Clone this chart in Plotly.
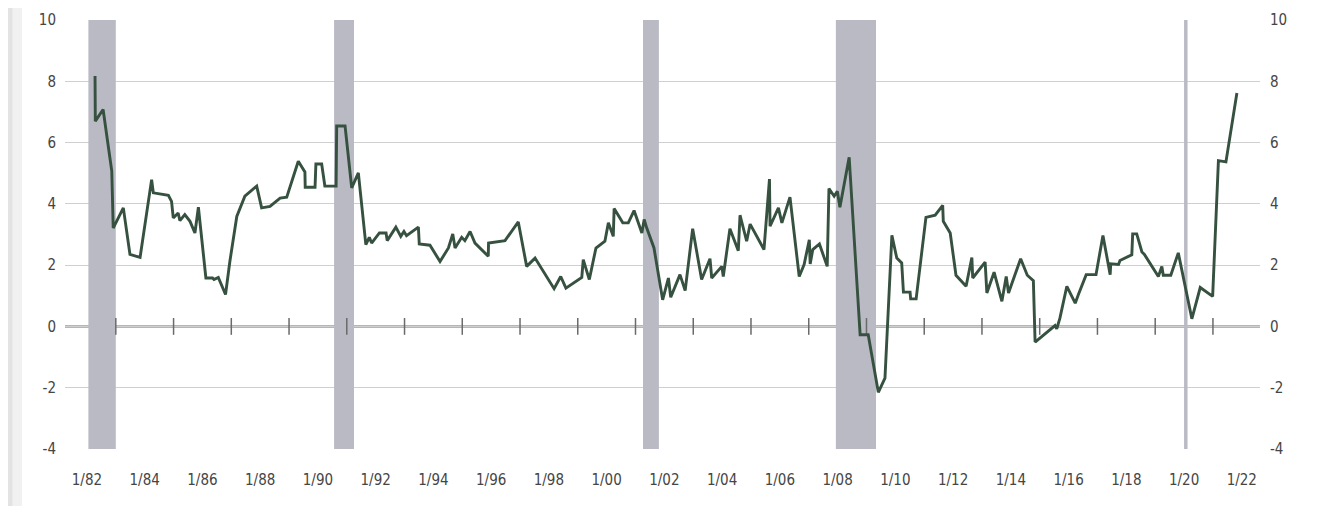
import plotly.graph_objects as go

# Decimal-year positions and percent change values
years = [
    1982.28, 1982.29, 1982.56, 1982.86, 1982.91, 1983.26, 1983.49, 1983.84, 1984.24, 1984.30,
    1984.82, 1984.93, 1984.99, 1985.16, 1985.22, 1985.39, 1985.57, 1985.74, 1985.86, 1986.12,
    1986.35, 1986.40, 1986.55, 1986.80, 1986.95, 1987.19, 1987.47, 1987.88, 1988.05, 1988.34,
    1988.69, 1988.92, 1989.32, 1989.55, 1989.56, 1989.90, 1989.93, 1990.13, 1990.24, 1990.63,
    1990.65, 1990.94, 1991.17, 1991.40, 1991.66, 1991.78, 1991.86, 1992.13, 1992.36, 1992.40,
    1992.70, 1992.87, 1992.98, 1993.07, 1993.48, 1993.51, 1993.88, 1994.23, 1994.52, 1994.67,
    1994.75, 1994.98, 1995.09, 1995.27, 1995.44, 1995.61, 1995.90, 1995.91, 1996.48, 1996.94,
    1997.23, 1997.52, 1998.18, 1998.41, 1998.59, 1999.14, 1999.19, 1999.40, 1999.63, 1999.94,
    2000.06, 2000.23, 2000.26, 2000.56, 2000.75, 2000.95, 2001.22, 2001.30, 2001.39, 2001.64,
    2001.94, 2002.14, 2002.22, 2002.54, 2002.72, 2002.98, 2003.29, 2003.58, 2003.64, 2003.99,
    2004.04, 2004.27, 2004.56, 2004.62, 2004.85, 2004.97, 2005.45, 2005.64, 2005.66, 2005.95,
    2006.07, 2006.35, 2006.67, 2006.84, 2007.02, 2007.05, 2007.14, 2007.37, 2007.64, 2007.70,
    2007.88, 2007.99, 2008.08, 2008.40, 2008.78, 2009.06, 2009.41, 2009.64, 2009.88, 2010.05,
    2010.22, 2010.28, 2010.51, 2010.53, 2010.72, 2011.06, 2011.38, 2011.64, 2011.66, 2011.90,
    2012.10, 2012.45, 2012.65, 2012.68, 2013.11, 2013.17, 2013.42, 2013.69, 2013.84, 2013.92,
    2014.34, 2014.57, 2014.78, 2014.84, 2015.53, 2015.59, 2015.70, 2015.94, 2016.23, 2016.34,
    2016.61, 2016.95, 2017.19, 2017.44, 2017.46, 2017.73, 2017.78, 2018.19, 2018.22, 2018.36,
    2018.54, 2018.62, 2019.11, 2019.23, 2019.28, 2019.54, 2019.80, 2020.27, 2020.56, 2020.99,
    2021.19, 2021.45, 2021.83,
]
pct_change = [
    8.17, 6.70, 7.08, 5.07, 3.21, 3.87, 2.35, 2.25, 4.79, 4.36,
    4.28, 4.08, 3.54, 3.70, 3.45, 3.65, 3.43, 3.05, 3.89, 1.58,
    1.58, 1.53, 1.60, 1.04, 2.12, 3.59, 4.25, 4.58, 3.87, 3.92,
    4.19, 4.22, 5.39, 5.04, 4.54, 4.54, 5.30, 5.30, 4.58, 4.58,
    6.54, 6.54, 4.52, 5.01, 2.67, 2.91, 2.72, 3.05, 3.05, 2.80,
    3.24, 2.94, 3.10, 2.96, 3.24, 2.69, 2.65, 2.12, 2.56, 3.02,
    2.56, 2.91, 2.80, 3.10, 2.72, 2.56, 2.29, 2.72, 2.80, 3.41,
    1.96, 2.23, 1.23, 1.63, 1.25, 1.60, 2.18, 1.53, 2.56, 2.78,
    3.38, 2.94, 3.85, 3.38, 3.38, 3.78, 3.05, 3.49, 3.21, 2.56,
    0.87, 1.58, 0.95, 1.69, 1.17, 3.19, 1.53, 2.21, 1.58, 1.96,
    1.63, 3.19, 2.47, 3.63, 2.78, 3.34, 2.51, 4.81, 3.27, 3.87,
    3.38, 4.22, 1.63, 2.02, 2.83, 2.04, 2.51, 2.69, 1.96, 4.50,
    4.25, 4.41, 3.89, 5.52, -0.27, -0.27, -2.15, -1.69, 2.97, 2.23,
    2.07, 1.12, 1.12, 0.90, 0.90, 3.56, 3.63, 3.95, 3.43, 3.05,
    1.67, 1.31, 2.25, 1.58, 2.10, 1.09, 1.77, 0.82, 1.63, 1.09,
    2.21, 1.67, 1.49, -0.51, 0.03, -0.08, 0.27, 1.31, 0.76, 1.04,
    1.69, 1.69, 2.97, 1.69, 2.04, 2.02, 2.15, 2.34, 3.02, 3.02,
    2.43, 2.36, 1.63, 1.96, 1.67, 1.67, 2.40, 0.25, 1.27, 0.98,
    5.41, 5.37, 7.62,
]

# Recession periods (decimal years)
recession_start = [1982.05, 1990.56, 2001.26, 2007.94, 2020.00]
recession_end = [1983.00, 1991.25, 2001.81, 2009.33, 2020.12]

# Axis labels
label_years = list(range(1982, 2023, 2))
label_text = ["1/%02d" % (y % 100) for y in label_years]
minor_tick_years = list(range(1983, 2022, 2))
y_ticks = [-4, -2, 0, 2, 4, 6, 8, 10]
y_tick_text = ["-4", "-2", "0", "2", "4", "6", "8", "10"]

FONT = "Liberation Sans Narrow, DejaVu Sans Condensed, Arial Narrow, sans-serif"
LINE_COLOR = "#36513f"
BAND_COLOR = "#b9bac4"
GRID_COLOR = "#cfcfcf"
TEXT_COLOR = "#454545"

fig = go.Figure()

fig.add_trace(go.Scatter(
    x=minor_tick_years, y=[0] * len(minor_tick_years),
    mode="markers",
    marker=dict(symbol="line-ns", size=12, line=dict(width=1.5, color="#6a6a6a")),
    hoverinfo="skip", showlegend=False,
))

fig.add_trace(go.Scatter(
    x=years, y=pct_change, mode="lines",
    line=dict(color=LINE_COLOR, width=2.9),
    showlegend=False,
))

# phantom trace for right axis
fig.add_trace(go.Scatter(x=[years[0]], y=[pct_change[0]], yaxis="y2",
                         mode="markers", marker=dict(opacity=0),
                         hoverinfo="skip", showlegend=False))

shapes = []
for s, e in zip(recession_start, recession_end):
    shapes.append(dict(type="rect", xref="x", yref="y", x0=s, x1=e, y0=-4, y1=10,
                       fillcolor=BAND_COLOR, line=dict(width=0), layer="between"))
# zero line above bands
shapes.append(dict(type="line", xref="paper", yref="y", x0=0, x1=1, y0=0, y1=0,
                   line=dict(color="#6e6e6e", width=2), layer="between"))
# photographed page edge on the left
shapes.append(dict(type="rect", xref="paper", yref="paper", x0=-0.06, x1=-0.036, y0=-0.2, y1=1.1,
                   fillcolor="#f1f1f1", line=dict(width=0), layer="below"))
shapes.append(dict(type="rect", xref="paper", yref="paper", x0=-0.06, x1=-0.044, y0=-0.2, y1=1.1,
                   fillcolor="#e3e3e3", line=dict(width=0), layer="below"))

TICKFONT = dict(family=FONT, size=15, color=TEXT_COLOR)

fig.update_layout(
    width=1315, height=498,
    margin=dict(l=57, r=63, t=12, b=57, autoexpand=False),
    paper_bgcolor="white", plot_bgcolor="white",
    shapes=shapes,
    showlegend=False,
    font=dict(family=FONT, size=15, color=TEXT_COLOR),
    xaxis=dict(
        range=[1981.24, 2022.63],
        tickvals=label_years, ticktext=label_text,
        showgrid=False, zeroline=False, showline=False,
        ticks="", ticklabelstandoff=20, automargin=False,
        tickfont=TICKFONT,
    ),
    yaxis=dict(
        range=[-4, 10], tickvals=y_ticks, ticktext=y_tick_text,
        showgrid=True, gridcolor=GRID_COLOR, gridwidth=1,
        zeroline=False, showline=False, ticks="",
        ticklabelstandoff=8, automargin=False,
        tickfont=TICKFONT,
    ),
    yaxis2=dict(
        range=[-4, 10], tickvals=y_ticks, ticktext=y_tick_text,
        overlaying="y", side="right",
        showgrid=False, zeroline=False, showline=False, ticks="",
        ticklabelstandoff=9, automargin=False,
        tickfont=TICKFONT,
    ),
)

fig.write_html("out.html")
